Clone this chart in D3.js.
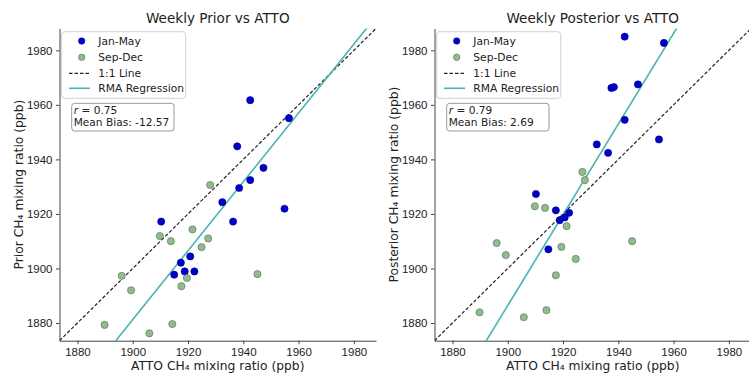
<!DOCTYPE html>
<html>
<head>
<meta charset="utf-8">
<script src="https://cdn.jsdelivr.net/npm/d3@7"></script>
<style>
  body { margin: 0; background: #fff; }
  svg { font-family: "DejaVu Sans", sans-serif; display: block; }
  .axis path, .axis line { stroke: #444; stroke-width: 1; }
  .axis text { font-size: 11.5px; fill: #222; }
</style>
</head>
<body>
<svg id="chart" width="749" height="375"></svg>
<script>
/* Data
======================================================================= */
var tickValues = [1880, 1900, 1920, 1940, 1960, 1980],
    axisLimits = [1873.5, 1988],
    panelTitles = ['Weekly Prior vs ATTO', 'Weekly Posterior vs ATTO'],
    yLabels = ['Prior', 'Posterior'],
    seriesNames = ['Jan-May', 'Sep-Dec'];

// Prior panel: ATTO observation (x) and model (y)
var priorJanMayAtto  = [1942.5, 1956.5, 1937.8, 1947.3, 1942.5, 1938.5, 1932.4, 1954.9, 1910.3, 1936.3, 1920.8, 1917.4, 1918.8, 1922.3, 1915.0],
    priorJanMayModel = [1961.7, 1955.1, 1944.8, 1936.9, 1932.4, 1929.5, 1924.3, 1921.9, 1917.2, 1917.2, 1904.4, 1902.1, 1898.9, 1898.9, 1897.7],
    priorSepDecAtto  = [1928.0, 1921.6, 1909.8, 1913.8, 1927.3, 1924.9, 1896.0, 1919.6, 1945.1, 1917.6, 1899.4, 1889.8, 1914.3, 1906.0],
    priorSepDecModel = [1930.6, 1914.3, 1911.9, 1910.0, 1911.0, 1907.8, 1897.3, 1896.5, 1897.9, 1893.5, 1892.0, 1879.3, 1879.6, 1876.2];

// Posterior panel
var postJanMayAtto  = [1942.3, 1956.5, 1947.1, 1937.5, 1938.4, 1942.3, 1954.7, 1932.2, 1936.3, 1910.2, 1917.4, 1922.2, 1920.6, 1918.8, 1914.7],
    postJanMayModel = [1985.0, 1982.7, 1967.5, 1966.2, 1966.5, 1954.5, 1947.3, 1945.5, 1942.4, 1927.3, 1921.3, 1920.4, 1918.7, 1917.7, 1907.0],
    postSepDecAtto  = [1927.0, 1927.9, 1909.8, 1913.5, 1921.3, 1945.0, 1896.0, 1919.4, 1899.3, 1924.6, 1917.4, 1889.8, 1914.0, 1905.8],
    postSepDecModel = [1935.4, 1932.4, 1922.8, 1922.2, 1915.5, 1910.0, 1909.3, 1907.9, 1904.9, 1903.5, 1897.5, 1883.9, 1884.7, 1882.1];

// RMA regression fits and stats shown in the boxes
var rmaSlopes = [1.2625, 1.664],
    rmaIntercepts = [-517.5, -1275.2],
    rValues = ['0.75', '0.79'],
    meanBiases = ['-12.57', '2.69'];

/* Layout
======================================================================= */
var svg = d3.select('#chart'),
    panelLefts = [59.5, 434.5],
    marginTop = 28.5,
    w = 316.5,
    h = 312.2,
    colors = { jan: '#0000c8', janEdge: '#00008b', sep: '#8fbc8f', sepEdge: '#556b55', rma: '#4ab3b3' };

var x = d3.scaleLinear().domain(axisLimits).range([0, w]),
    y = d3.scaleLinear().domain(axisLimits).range([h, 0]);

var panels = [
  { jan: [priorJanMayAtto, priorJanMayModel], sep: [priorSepDecAtto, priorSepDecModel] },
  { jan: [postJanMayAtto, postJanMayModel], sep: [postSepDecAtto, postSepDecModel] }
];

panels.forEach(function(p, i) {

  var g = svg.append('g').attr('transform', 'translate(' + panelLefts[i] + ',' + marginTop + ')');

  // Clip for lines
  g.append('clipPath').attr('id', 'clip' + i)
    .append('rect').attr('width', w).attr('height', h);

  // Axes (left and bottom only)
  g.append('g').attr('class', 'axis')
    .attr('transform', 'translate(0,' + h + ')')
    .call(d3.axisBottom(x).tickValues(tickValues).tickFormat(d3.format('d')).tickSize(3.5).tickPadding(3.5).tickSizeOuter(0));
  g.append('g').attr('class', 'axis')
    .call(d3.axisLeft(y).tickValues(tickValues).tickFormat(d3.format('d')).tickSize(3.5).tickPadding(3.5).tickSizeOuter(0));

  // 1:1 line
  g.append('line')
    .attr('clip-path', 'url(#clip' + i + ')')
    .attr('x1', x(axisLimits[0])).attr('y1', y(axisLimits[0]))
    .attr('x2', x(axisLimits[1])).attr('y2', y(axisLimits[1]))
    .attr('stroke', '#222').attr('stroke-width', 1.2).attr('stroke-dasharray', '3.5,2');

  // RMA regression line
  var yAt = function(v) { return rmaSlopes[i] * v + rmaIntercepts[i]; };
  g.append('line')
    .attr('clip-path', 'url(#clip' + i + ')')
    .attr('x1', x(1860)).attr('y1', y(yAt(1860)))
    .attr('x2', x(2000)).attr('y2', y(yAt(2000)))
    .attr('stroke', colors.rma).attr('stroke-width', 1.6);

  // Points
  [['jan', colors.jan, colors.janEdge], ['sep', colors.sep, colors.sepEdge]].forEach(function(s) {
    var xs = p[s[0]][0], ys = p[s[0]][1];
    g.append('g').selectAll('circle')
      .data(xs.map(function(v, k) { return [v, ys[k]]; }))
      .enter().append('circle')
        .attr('cx', function(d) { return x(d[0]); })
        .attr('cy', function(d) { return y(d[1]); })
        .attr('r', 3.6)
        .attr('fill', s[1])
        .attr('stroke', s[2])
        .attr('stroke-width', 0.6);
  });

  // Title
  g.append('text')
    .attr('x', w / 2).attr('y', -5.5)
    .attr('text-anchor', 'middle')
    .attr('font-size', '13.6px').attr('fill', '#222')
    .text(panelTitles[i]);

  // Axis labels
  g.append('text')
    .attr('x', w / 2).attr('y', h + 29.5)
    .attr('text-anchor', 'middle')
    .attr('font-size', '12.3px').attr('fill', '#222')
    .text('ATTO CH\u2084 mixing ratio (ppb)');
  g.append('text')
    .attr('transform', 'translate(' + (-36.5) + ',' + (h / 2) + ') rotate(-90)')
    .attr('text-anchor', 'middle')
    .attr('font-size', '12.3px').attr('fill', '#222')
    .text(yLabels[i] + ' CH\u2084 mixing ratio (ppb)');

  // Legend
  var lg = g.append('g').attr('transform', 'translate(2.2,3.2)');
  lg.append('rect')
    .attr('width', 124).attr('height', 66.6).attr('rx', 3)
    .attr('fill', '#fff').attr('fill-opacity', 0.85)
    .attr('stroke', '#d0d0d0').attr('stroke-width', 1);
  var rows = [9.3, 25.6, 41.6, 56.6];
  lg.append('circle').attr('cx', 20).attr('cy', rows[0]).attr('r', 3.2)
    .attr('fill', colors.jan).attr('stroke', colors.janEdge).attr('stroke-width', 0.6);
  lg.append('circle').attr('cx', 20).attr('cy', rows[1]).attr('r', 3.2)
    .attr('fill', colors.sep).attr('stroke', colors.sepEdge).attr('stroke-width', 0.6);
  lg.append('line').attr('x1', 7.3).attr('x2', 28.3).attr('y1', rows[2]).attr('y2', rows[2])
    .attr('stroke', '#222').attr('stroke-width', 1.2).attr('stroke-dasharray', '3.5,2');
  lg.append('line').attr('x1', 7.3).attr('x2', 28.3).attr('y1', rows[3]).attr('y2', rows[3])
    .attr('stroke', colors.rma).attr('stroke-width', 1.6);
  [seriesNames[0], seriesNames[1], '1:1 Line', 'RMA Regression'].forEach(function(t, k) {
    lg.append('text')
      .attr('x', 36.6).attr('y', rows[k]).attr('dy', '0.36em')
      .attr('font-size', '10.7px').attr('fill', '#222')
      .text(t);
  });

  // Stats box
  var sb = g.append('g').attr('transform', 'translate(12.2,74.8)');
  sb.append('rect')
    .attr('width', 102.3).attr('height', 27.7).attr('rx', 3)
    .attr('fill', '#fff').attr('stroke', '#999').attr('stroke-width', 1);
  var t1 = sb.append('text').attr('x', 2).attr('y', 11.2)
    .attr('font-size', '10.6px').attr('fill', '#222');
  t1.append('tspan').attr('font-style', 'italic').text('r');
  t1.append('tspan').text(' = ' + rValues[i]);
  sb.append('text').attr('x', 2).attr('y', 22.9)
    .attr('font-size', '10.6px').attr('fill', '#222')
    .text('Mean Bias: ' + meanBiases[i]);
});
</script>
</body>
</html>
